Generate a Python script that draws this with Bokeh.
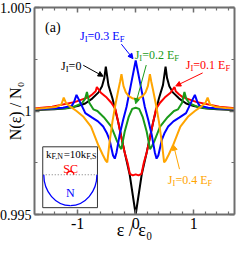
import numpy as np
from bokeh.plotting import figure
from bokeh.models import (Range1d, FixedTicker, LinearAxis, Label, Arrow, NormalHead,
                          CustomJSTickFormatter)
from bokeh.embed import file_html
from bokeh.resources import INLINE

# ---------------- data (right half, epsilon >= 0; curves are symmetric) -------------
x_j0 = [0.0, 0.103, 0.19, 0.30, 0.40, 0.47, 0.515, 0.54, 0.58, 0.64, 0.75, 0.87, 1.0, 1.15, 1.4, 1.75]
y_j0 = [0.99500, 0.99692, 0.99800, 0.99945, 1.00060, 1.00125, 1.00214, 1.00160, 1.00120, 1.00090,
        1.00060, 1.00036, 1.00024, 1.00015, 1.00009, 1.00005]

x_j1 = [0.0, 0.05, 0.10, 0.14, 0.19, 0.25, 0.30, 0.35, 0.42, 0.50, 0.60, 0.669, 0.69, 0.75, 0.81,
        1.04, 1.44, 1.75]
y_j1 = [0.99694, 0.99689, 0.99696, 0.99750, 0.99800, 0.99875, 0.99945, 1.00010, 1.00040, 1.00065,
        1.00088, 1.00116, 1.00095, 1.00080, 1.00067, 1.00044, 1.00021, 1.00012]

x_j2 = [0.0, 0.06, 0.12, 0.19, 0.247, 0.28, 0.33, 0.42, 0.55, 0.66, 0.73, 0.80, 0.84, 0.87, 0.93,
        1.05, 1.21, 1.45, 1.75]
y_j2 = [1.00016, 1.00010, 0.99972, 0.99900, 0.99816, 0.99830, 0.99860, 0.99925, 0.99970, 1.00000,
        1.00008, 1.00040, 1.00092, 1.00060, 1.00036, 1.00022, 1.00013, 1.00010, 1.00008]

x_j3 = [0.0, 0.08, 0.158, 0.218, 0.28, 0.33, 0.36, 0.39, 0.45, 0.50, 0.56, 0.65, 0.75, 0.868, 0.95,
        1.02, 1.06, 1.10, 1.25, 1.45, 1.75]
y_j3 = [1.00244, 1.00130, 1.00019, 0.99955, 0.99880, 0.99800, 0.99770, 0.99785, 0.99860, 0.99895,
        0.99925, 0.99950, 0.99968, 0.99990, 1.00038, 1.00078, 1.00045, 1.00026, 1.00016, 1.00012, 1.00008]

x_j4 = [0.0, 0.06, 0.12, 0.17, 0.21, 0.245, 0.27, 0.30, 0.35, 0.40, 0.45, 0.49, 0.52, 0.57, 0.64,
        0.77, 0.90, 1.02, 1.12, 1.20, 1.24, 1.28, 1.38, 1.55, 1.75]
y_j4 = [1.00058, 1.00062, 1.00072, 1.00090, 1.00120, 1.00178, 1.00140, 1.00100, 1.00030, 0.99950,
        0.99850, 0.99752, 0.99762, 0.99790, 0.99832, 0.99925, 0.99972, 1.00000, 1.00020, 1.00038,
        1.00065, 1.00032, 1.00019, 1.00014, 1.00010]

series = [("J0", x_j0, y_j0, "#000000"),
          ("J1", x_j1, y_j1, "#ff0000"),
          ("J2", x_j2, y_j2, "#1a9a1a"),
          ("J3", x_j3, y_j3, "#0000ff"),
          ("J4", x_j4, y_j4, "#ffa500")]

x_ticks = [-1, 0, 1]
x_minor = [-1.6, -1.4, -1.2, -0.8, -0.6, -0.4, -0.2, 0.2, 0.4, 0.6, 0.8, 1.2, 1.4, 1.6]
y_ticks = [0.995, 1.0, 1.005]
y_minor = [0.9975, 1.0025]

x_title = "\u03b5 / \u03b5\u2080"
y_title = "N(\u03b5) / N\u2080"

FONT = "Liberation Serif"
GRAY = "#6e6e6e"

p = figure(width=237, height=254, output_backend="svg", toolbar_location=None,
           x_range=Range1d(-1.744, 1.703), y_range=Range1d(0.995, 1.005),
           min_border_left=34, min_border_right=3, min_border_top=7, min_border_bottom=40,
           background_fill_color="white", border_fill_color="white")
p.outline_line_color = None
p.xgrid.visible = False
p.ygrid.visible = False
p.xaxis.visible = False
p.yaxis.visible = False

fmt = CustomJSTickFormatter(code="return String(tick);")

def style_axis(ax, labels, fsize, tsize="17px"):
    ax.axis_line_color = GRAY
    ax.axis_line_width = 2
    ax.major_tick_line_color = GRAY
    ax.minor_tick_line_color = GRAY
    ax.major_tick_line_width = 1.5
    ax.minor_tick_line_width = 1.2
    ax.major_tick_in = 5
    ax.major_tick_out = 0
    ax.minor_tick_in = 3
    ax.minor_tick_out = 0
    if labels:
        ax.formatter = fmt
        ax.major_label_text_font = FONT
        ax.major_label_text_font_size = fsize
        ax.major_label_text_color = "black"
        ax.major_label_standoff = 3
        ax.axis_label_text_font = FONT
        ax.axis_label_text_font_style = "normal"
        ax.axis_label_text_font_size = tsize
        ax.axis_label_text_color = "black"
        ax.axis_label_text_line_height = 0.8
    else:
        ax.major_label_text_font_size = "1px"
        ax.major_label_text_color = None
        ax.major_label_standoff = 0

xt = FixedTicker(ticks=x_ticks, minor_ticks=x_minor)
yt = FixedTicker(ticks=y_ticks, minor_ticks=y_minor)

ax_b = LinearAxis(ticker=xt)
style_axis(ax_b, True, "16px", "18px")
ax_b.axis_label = x_title
ax_b.axis_label_standoff = -12
p.add_layout(ax_b, "below")
ax_t = LinearAxis(ticker=xt)
style_axis(ax_t, False, "1px")
p.add_layout(ax_t, "above")

ax_l = LinearAxis(ticker=yt)
style_axis(ax_l, True, "14px", "16px")
ax_l.axis_label = y_title
ax_l.axis_label_standoff = -27
p.add_layout(ax_l, "left")
ax_r = LinearAxis(ticker=yt)
style_axis(ax_r, False, "1px")
p.add_layout(ax_r, "right")

# curves (mirrored about epsilon = 0)
for name, xs, ys, col in series:
    xf = [-v for v in reversed(xs)] + list(xs[1:])
    yf = list(reversed(ys)) + list(ys[1:])
    p.line(xf, yf, line_color=col, line_width=2)

# ---------------- text helpers -----------------
EM = {"J": .389, "I": .333, "=": .564, ".": .25, " ": .25, "E": .611, "F": .556, "k": .5,
      "N": .722, "S": .556, "C": .667, ",": .25, "(": .333, ")": .333, "/": .278, "\u03b5": .44,
      "a": .444}

def tw(s, fs):
    return sum(EM.get(c, 0.5) for c in s) * fs

def rich(parts, x, y, color, fs, sub_ratio=0.72, sub_drop=3, align="left"):
    total = sum(tw(t, fs * sub_ratio if sb else fs) for t, sb in parts)
    off = -total / 2 if align == "center" else 0.0
    for t, sb in parts:
        f = fs * sub_ratio if sb else fs
        p.add_layout(Label(x=x, y=y, x_offset=off, y_offset=(-sub_drop if sb else 0), text=t,
                           text_font=FONT, text_font_size=f"{f:.1f}px", text_color=color,
                           text_align="left", text_baseline="alphabetic"))
        off += tw(t, f)

rich([("(a)", False)], -1.561, 1.00402, "black", 14)
rich([("J", False), ("I", True), ("=0.3 E", False), ("F", True)], -0.960, 1.00360, "#0000ff", 12)
rich([("J", False), ("I", True), ("=0.2 E", False), ("F", True)], -0.017, 1.00272, "#1a9a1a", 12)
rich([("J", False), ("I", True), ("=0.1 E", False), ("F", True)], 0.863, 1.00221, "#ff0000", 12)
rich([("J", False), ("I", True), ("=0", False)], -1.286, 1.00216, "black", 12)
rich([("J", False), ("I", True), ("=0.4 E", False), ("F", True)], 0.554, 0.99667, "#ffa500", 12)

# arrows
arrows = [((-0.247, 1.00323), (-0.046, 1.00253), "#0000ff"),
          ((0.182, 1.00222), (0.0, 1.00035), "#1a9a1a"),
          ((1.154, 1.00184), (0.691, 1.00121), "#ff0000"),
          ((-0.904, 1.00221), (-0.561, 1.00168), "black"),
          ((0.755, 0.99719), (0.652, 0.99835), "#ffa500")]
for (xs_, ys_), (xe, ye), col in arrows:
    p.add_layout(Arrow(x_start=xs_, y_start=ys_, x_end=xe, y_end=ye, line_color=col, line_width=1,
                       end=NormalHead(size=5, fill_color=col, line_color=col, line_width=1)))

# ---------------- inset -----------------
bx0, bx1, by0, by1 = -1.602, -0.659, 0.99533, 0.99827
p.quad(left=[bx0], right=[bx1], bottom=[by0], top=[by1], fill_color="white",
       line_color="#333333", line_width=1)
cx, cy = -1.126, 0.99692
rx, ry = 0.458, 0.00149
k = 0.5523
p.segment(x0=[bx0], y0=[cy], x1=[bx1], y1=[cy], line_color="#777777", line_width=1,
          line_dash="1 2")
p.bezier(x0=[cx - rx, cx], y0=[cy, cy - ry], x1=[cx, cx + rx], y1=[cy - ry, cy],
         cx0=[cx - rx, cx + k * rx], cy0=[cy - k * ry, cy - ry],
         cx1=[cx - k * rx, cx + rx], cy1=[cy - ry, cy - k * ry], line_color="#0000ff", line_width=1.3)
p.arc(x=[cx], y=[cy], radius=3.5, radius_units="screen", start_angle=0, end_angle=np.pi,
      line_color="#ff0000", line_width=1.3)
rich([("k", False), ("F,N", True), ("=10k", False), ("F,S", True)], -1.545, 0.99791, "black", 11,
     sub_drop=2.5)
rich([("SC", False)], -1.122, 0.99719, "#ff0000", 12, align="center")
rich([("N", False)], -1.126, 0.99602, "#0000ff", 12, align="center")

open("out.html", "w").write(file_html(p, INLINE))
